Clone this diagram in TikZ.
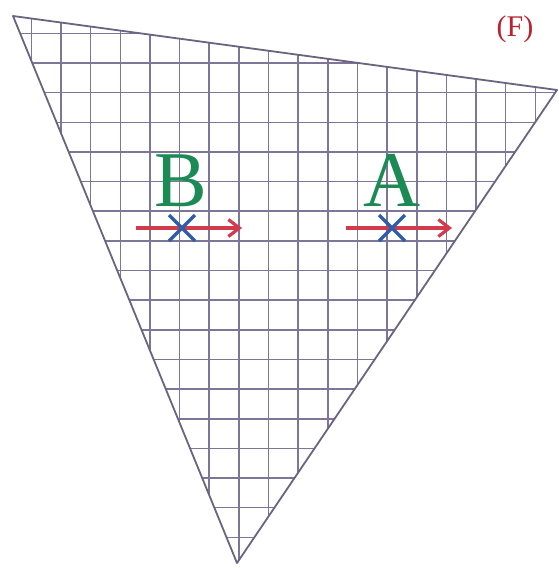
\documentclass[tikz,border=0pt]{standalone}
\usepackage{fontspec}
\setmainfont{Liberation Serif}
\usetikzlibrary{arrows.meta}
\definecolor{gridc}{HTML}{7D7699}
\definecolor{edgec}{HTML}{6A6480}
\definecolor{vecc}{HTML}{D23A4E}
\definecolor{crossc}{HTML}{2F5DAA}
\definecolor{labc}{HTML}{1B8A55}
\definecolor{tagc}{HTML}{B8232E}

\begin{document}
\begin{tikzpicture}[x=1pt,y=-1pt,
    vec/.style={vecc,line width=3.4pt,-{Straight Barb[length=11pt,width=17pt,line width=3.2pt]}},
    cross/.style={crossc,line width=3.2pt},
    lab/.style={text=labc,font=\fontsize{79}{79}\selectfont,inner sep=0pt}]
  \useasboundingbox (0,0) rectangle (558,568);
  \coordinate (T1) at (13,16);
  \coordinate (T2) at (557,90);
  \coordinate (T3) at (237,563);
  % grid inside the triangle
  \begin{scope}
    \clip (T1) -- (T2) -- (T3) -- cycle;
    \foreach \i in {0,...,18} {\draw[gridc,line width=1.5pt] (31.3+29.65*\i,0) -- ++(0,568);}
    \foreach \j in {0,...,18} {\draw[gridc,line width=1.5pt] (0,33.3+29.65*\j) -- ++(558,0);}
  \end{scope}
  \draw[edgec,line width=1.8pt,line join=round] (T1) -- (T2) -- (T3) -- cycle;
  % points and vectors
  \coordinate (B) at (182,228);
  \coordinate (A) at (392,228);
  \coordinate (Bs) at (136,228); \coordinate (Be) at (242,228);
  \coordinate (As) at (346,228); \coordinate (Ae) at (452,228);
  \draw[vec] (Bs) -- (Be);
  \draw[vec] (As) -- (Ae);
  \foreach \p in {A,B} {
    \draw[cross] ([shift={(-13,-13)}]\p) -- ([shift={(13,13)}]\p);
    \draw[cross] ([shift={(-13,13)}]\p) -- ([shift={(13,-13)}]\p);
  }
  \node[lab,anchor=base] (labB) at (181,206) {B};
  \node[lab,anchor=base] (labA) at (392,206) {A};
  \node[text=tagc,font=\fontsize{30}{30}\selectfont,anchor=base] (tag) at (515,36) {(F)};
\end{tikzpicture}
\end{document}
